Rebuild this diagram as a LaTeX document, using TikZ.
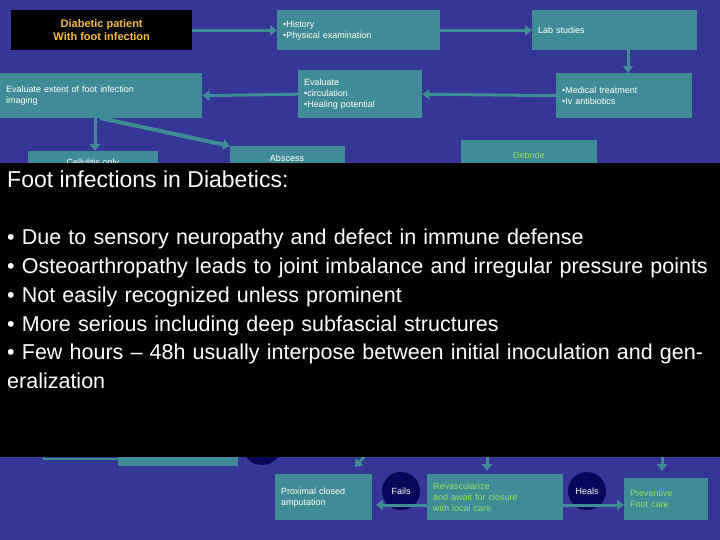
\documentclass[tikz,border=0pt]{standalone}
\usepackage{fontspec}
\setmainfont{Liberation Sans}
\usetikzlibrary{arrows.meta}
\definecolor{slidebg}{RGB}{53,54,150}
\definecolor{boxteal}{RGB}{64,140,150}
\definecolor{navyc}{RGB}{8,8,90}
\definecolor{lightgreen}{RGB}{150,220,100}
\definecolor{gold}{RGB}{250,190,60}
\begin{document}
\begin{tikzpicture}[x=1pt,y=-1pt,
  every node/.style={font=\fontsize{9}{11}\selectfont, text=white},
  tbox/.style={fill=boxteal, inner xsep=6pt, inner ysep=3pt, anchor=north west, align=left},
  flow/.style={draw=boxteal, line width=3pt, -{Triangle[length=7pt,width=10pt]}},
  hub/.style={circle, fill=navyc, minimum size=40pt, inner sep=0pt}]
\fill[slidebg] (0,0) rectangle (720,540);
\useasboundingbox (0,0) rectangle (720,540);
% top row
\node[fill=black, minimum width=181pt, minimum height=40pt, anchor=north west, text=gold, font=\bfseries\fontsize{11}{13}\selectfont, align=center] (patient) at (11,10) {Diabetic patient\\With foot infection};
\node[tbox, text width=151pt, minimum height=40pt] (history) at (277,10) {\textbullet History\\\textbullet Physical examination};
\node[tbox, text width=153pt, minimum height=40pt] (lab) at (532,10) {Lab studies};
% second row
\node[tbox, text width=124pt, minimum height=45pt] (medical) at (556,73) {\textbullet Medical treatment\\\textbullet Iv antibiotics};
\node[tbox, text width=112pt, minimum height=48pt] (circ) at (298,70) {Evaluate\\\textbullet circulation\\\textbullet Healing potential};
\node[tbox, text width=190pt, minimum height=45pt, inner xsep=6pt] (extent) at (0,73) {Evaluate extent of foot infection\\imaging};
% third row
\node[tbox, minimum width=130pt, minimum height=40pt] (cell) at (28,151) {};
\node at (93,163) {Cellulitis only};
\node[tbox, minimum width=115pt, minimum height=40pt] (abscess) at (230,146) {};
\node at (287,158) {Abscess};
\node[tbox, minimum width=136pt, minimum height=40pt] (debride) at (461,140) {};
\node[text=lightgreen] at (529,155) {Debride};
\draw[flow] (patient.east) -- (history.west);
\draw[flow] (history.east) -- (lab.west);
\draw[flow] (lab.south -| 628,0) -- (628,73);
\draw[flow] (medical.west) -- (circ.east);
\draw[flow] (circ.west) -- (extent.east);
\draw[flow] (extent.south -| 95,0) -- (95,151);
\draw[flow, line width=4pt] (100,118) -- (abscess.north west);
% bottom row
\draw[draw=boxteal, line width=2pt] (44,440) -- (44,459) -- (118,459);
\fill[boxteal] (118,440) rectangle (238,466);
\node[hub] (h1) at (262,445) {};
\node[hub] (h2) at (348,435) {};
\node[hub] (h3) at (505,435) {};
\node[tbox, text width=85pt, minimum height=46pt, inner xsep=6pt] (prox) at (275,474) {Proximal closed\\amputation};
\node[tbox, text width=124pt, minimum height=46pt, text=lightgreen] (revasc) at (427,474) {Revascularize\\and await for closure\\with local care};
\node[tbox, text width=72pt, minimum height=42pt, text=lightgreen] (prevent) at (624,478) {Preventive\\Foot care};
\node[hub, minimum size=38pt] (fails) at (401,491) {Fails};
\node[hub, minimum size=38pt] (heals) at (587,491) {Heals};
\coordinate (a1) at (370,450);
\coordinate (a2) at (487,440);
\coordinate (a3) at (662,440);
\draw[flow] (a1) -- (355,467);
\draw[flow] (a2) -- (487,471);
\draw[flow] (a3) -- (662,471);
\draw[flow] (revasc.west |- 0,505) -- (376,505);
\draw[flow] (revasc.east |- 0,505) -- (prevent.west |- 0,505);
% overlay
\fill[black] (0,163) rectangle (720,457);
\node[anchor=north west, font=\fontsize{23}{27}\selectfont, inner sep=0pt] (title) at (7,171) {Foot infections in Diabetics:};
\node[anchor=north west, font=\fontsize{21.5}{28.8}\selectfont, text width=712pt, align=left, inner sep=0pt] (points) at (7,229)
{\hyphenpenalty=10000 \textbullet\ Due to sensory neuropathy and defect in immune defense\\
\textbullet\ Osteoarthropathy leads to joint imbalance and irregular pressure points\\
\textbullet\ Not easily recognized unless prominent\\
\textbullet\ More serious including deep subfascial structures\\
\textbullet\ Few hours -- 48h usually interpose between initial inoculation and generalization};
\end{tikzpicture}
\end{document}
